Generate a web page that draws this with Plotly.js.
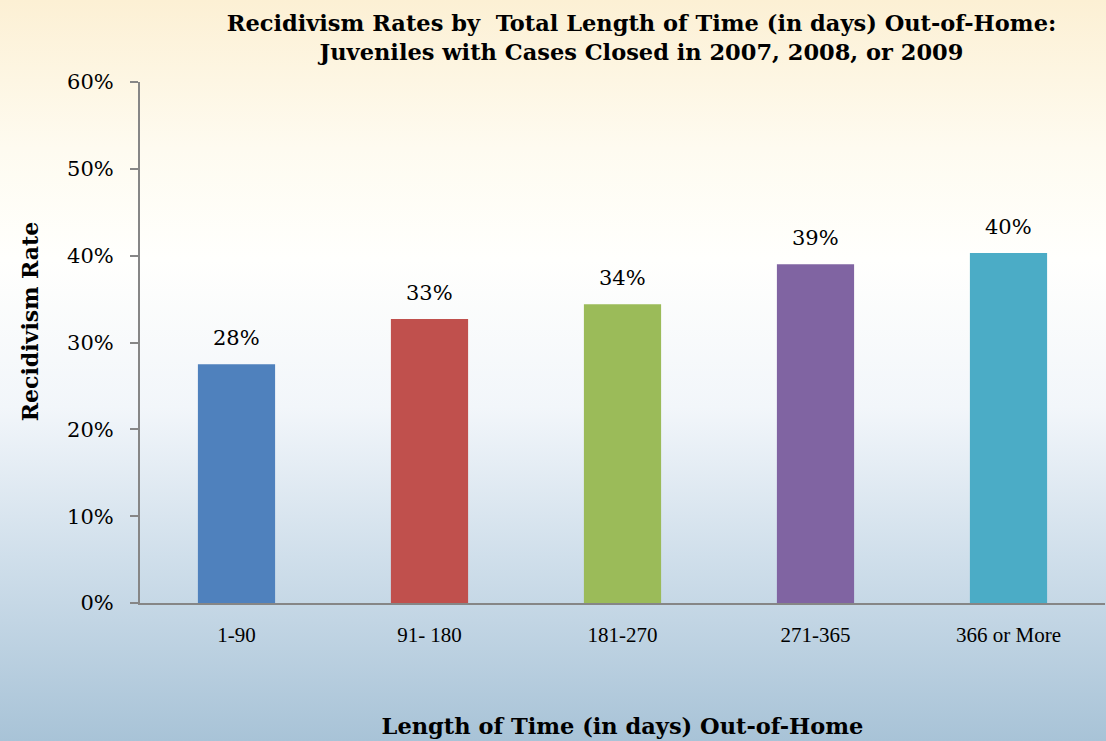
<!DOCTYPE html>
<html>
<head>
<meta charset="utf-8">
<script src="https://cdn.plot.ly/plotly-3.0.1.min.js"></script>
<style>
html,body{margin:0;padding:0;width:1106px;height:741px;overflow:hidden;}
body{background:linear-gradient(to bottom,#FCF0D4 0%,#FEFBF0 20%,#FFFFFD 35%,#F2F6FA 55%,#D0DFEB 75%,#A8C3D7 100%);}
#chart{width:1106px;height:741px;}
</style>
</head>
<body>
<div id="chart"></div>
<script>
const categories = ["1-90", "91- 180", "181-270", "271-365", "366 or More"];
const rates = [0.275, 0.327, 0.344, 0.390, 0.403];
const labels = ["28%", "33%", "34%", "39%", "40%"];
const colors = ["#4F81BD", "#C0504D", "#9BBB59", "#8064A2", "#4BACC6"];
const yTicks = [0, 0.1, 0.2, 0.3, 0.4, 0.5, 0.6];
const yTickText = ["0%", "10%", "20%", "30%", "40%", "50%", "60%"];

const serif = "Liberation Serif, DejaVu Serif, serif";
const wide = "DejaVu Serif, Liberation Serif, serif";

const trace = {
  type: "bar",
  x: categories,
  y: rates,
  marker: {color: colors},
  width: 0.4,
  hoverinfo: "none"
};

const annotations = categories.map((c, i) => ({
  x: c, y: rates[i], xref: "x", yref: "y",
  text: labels[i], showarrow: false,
  yanchor: "bottom", yshift: 12,
  font: {family: wide, size: 21, color: "#000"}
}));

annotations.push({
  text: "<b>Recidivism Rate</b>", showarrow: false,
  xref: "paper", yref: "paper",
  x: -0.1145, xanchor: "center",
  y: 0.54, yanchor: "middle",
  textangle: -90,
  font: {family: wide, size: 22, color: "#000"}
});

const layout = {
  width: 1106, height: 741,
  paper_bgcolor: "rgba(0,0,0,0)",
  plot_bgcolor: "rgba(0,0,0,0)",
  margin: {l: 140, r: 1, t: 82, b: 138},
  showlegend: false,
  bargap: 0.6,
  title: {
    text: "<b>Recidivism Rates by  Total Length of Time (in days) Out-of-Home:<br>Juveniles with Cases Closed in 2007, 2008, or 2009</b>",
    font: {family: wide, size: 22.5, color: "#000"},
    x: 0.58, xanchor: "center", y: 0.958, yanchor: "top"
  },
  xaxis: {
    type: "category",
    showgrid: false, zeroline: false,
    showline: true, linecolor: "#868686", linewidth: 2,
    ticks: "", ticklabelstandoff: 12,
    tickfont: {family: serif, size: 21, color: "#000"},
    title: {text: "<b>Length of Time (in days) Out-of-Home</b>", standoff: 72,
            font: {family: wide, size: 22.5, color: "#000"}},
    automargin: false, fixedrange: true
  },
  yaxis: {
    range: [0, 0.6],
    tickvals: yTicks, ticktext: yTickText,
    showgrid: false, zeroline: false,
    showline: true, linecolor: "#868686", linewidth: 2,
    ticks: "outside", ticklen: 8, tickwidth: 2, tickcolor: "#868686",
    ticklabelstandoff: 12,
    tickfont: {family: wide, size: 21, color: "#000"},
    automargin: false, fixedrange: true
  },
  annotations: annotations
};

Plotly.newPlot("chart", [trace], layout, {displayModeBar: false, staticPlot: true});
</script>
</body>
</html>
